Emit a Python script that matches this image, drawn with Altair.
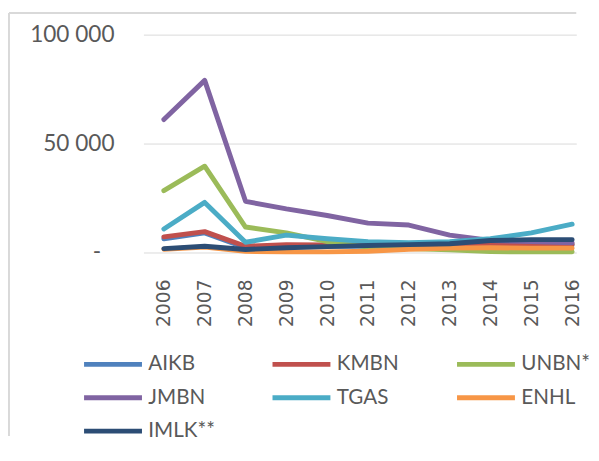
import altair as alt
import pandas as pd

years = [2006, 2007, 2008, 2009, 2010, 2011, 2012, 2013, 2014, 2015, 2016]
series_names = ["AIKB", "KMBN", "UNBN*", "JMBN", "TGAS", "ENHL", "IMLK**"]
series_colors = ["#4F81BD", "#C0504D", "#9BBB59", "#8064A2", "#4BACC6", "#F79646", "#2C4D75"]

aikb = [6300, 9000, 2200, 2800, 2800, 3000, 3200, 3300, 3500, 3500, 3500]
kmbn = [7200, 9600, 2900, 3600, 3500, 3500, 3500, 3800, 4200, 4000, 3800]
unbn = [28400, 39600, 11700, 9000, 5000, 2500, 1800, 1300, 400, 300, 300]
jmbn = [61000, 79000, 23500, 20000, 17000, 13500, 12600, 8000, 5500, 5000, 4500]
tgas = [10800, 23000, 4700, 8000, 6300, 5000, 4500, 5000, 6300, 9000, 13000]
enhl = [1500, 2500, 500, 300, 300, 600, 1500, 2000, 2200, 2000, 2000]
imlk = [1800, 2900, 1400, 2200, 2700, 3200, 3600, 4000, 5500, 5900, 5900]

y_ticks = [0, 50000, 100000]
zero_label = ["-"]

values = [aikb, kmbn, unbn, jmbn, tgas, enhl, imlk]

rows = []
for name, vals in zip(series_names, values):
    for y, v in zip(years, vals):
        rows.append({"year": y, "series": name, "value": v})
df = pd.DataFrame(rows)

label_color = "#595959"
font = "Lato"

lines = alt.Chart(df).mark_line(strokeWidth=5, strokeCap="round", strokeJoin="round").encode(
    x=alt.X("year:Q",
            scale=alt.Scale(domain=[2005.5, 2016.101], nice=False, zero=False),
            axis=alt.Axis(values=years, format="d", labelAngle=-90, labelFont="DejaVu Sans",
                          labelFontSize=19, labelColor=label_color, labelPadding=27,
                          ticks=False, domain=False, grid=False, title=None,
                          labelBaseline="middle", labelAlign="right")),
    y=alt.Y("value:Q",
            scale=alt.Scale(domain=[0, 100000], nice=False),
            axis=alt.Axis(values=y_ticks, labelFont=font, labelFontSize=23,
                          labelColor=label_color, labelPadding=30, ticks=False, domain=False,
                          gridColor="#D9D9D9", gridWidth=1, title=None,
                          labelExpr="datum.value == 0 ? '' : replace(format(datum.value, ','), ',', ' ')")),
    color=alt.Color("series:N",
                    scale=alt.Scale(domain=series_names, range=series_colors),
                    legend=alt.Legend(title=None, orient="none", legendX=-63, legendY=326,
                                      direction="horizontal",
                                      columns=3, gridAlign="each", columnPadding=56, rowPadding=13,
                                      clipHeight=20, symbolType="stroke", symbolSize=3481,
                                      symbolStrokeWidth=5, symbolOffset=0, labelOffset=4,
                                      labelFont=font, labelFontSize=21, labelColor=label_color,
                                      labelLimit=90, padding=0)),
    order=alt.Order("year:Q"),
)

zero_text = alt.Chart(pd.DataFrame({"label": zero_label, "value": [0]})).mark_text(
    align="right", baseline="middle", font=font, fontSize=23, color=label_color, dx=-43
).encode(x=alt.value(0), y=alt.Y("value:Q"), text="label:N")

frame_left = alt.Chart(pd.DataFrame({"k": [0]})).mark_rule(color="#D9D9D9", strokeWidth=2).encode(
    x=alt.value(-137), y=alt.value(-22), y2=alt.value(409))
frame_top = alt.Chart(pd.DataFrame({"k": [0]})).mark_rule(color="#D9D9D9", strokeWidth=2).encode(
    x=alt.value(-137), x2=alt.value(441), y=alt.value(-22))

chart = alt.layer(lines, zero_text, frame_left, frame_top).properties(
    width=441, height=222, padding=0, background="white"
).configure_view(stroke=None)

chart.save("out.html", embed_options={"renderer": "svg", "actions": False})
